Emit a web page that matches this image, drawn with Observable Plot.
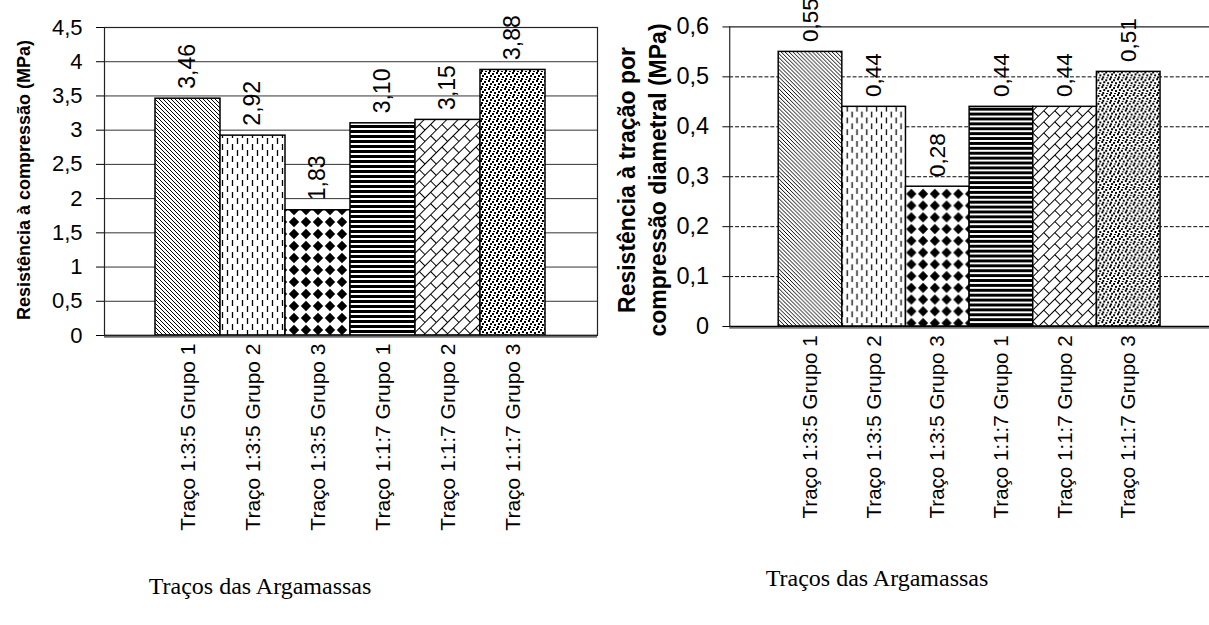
<!DOCTYPE html>
<html><head><meta charset="utf-8">
<script src="https://cdn.jsdelivr.net/npm/d3@7"></script>
<script src="https://cdn.jsdelivr.net/npm/@observablehq/plot@0.6"></script>
<style>
html,body{margin:0;padding:0;background:#fff;width:1209px;height:625px;overflow:hidden;}
#wrap{position:relative;width:1209px;height:625px;overflow:hidden;font-family:"Liberation Sans",Arial,sans-serif;color:#000;}
.chart{position:absolute;top:0;}
.ytitle{position:absolute;font-weight:bold;white-space:nowrap;transform:translate(-50%,-50%) rotate(-90deg);text-align:center;}
.xtitle{position:absolute;font-family:"Liberation Serif","Times New Roman",serif;font-size:24px;line-height:24px;white-space:nowrap;transform:translateX(-50%);}
</style></head><body>
<div id="wrap">
  <div id="left" class="chart" style="left:0"></div>
  <div id="right" class="chart" style="left:600px"></div>
  <div class="ytitle" style="left:24px;top:180px;font-size:18px;line-height:18px;">Resistência à compressão (MPa)</div>
  <div class="ytitle" style="left:643px;top:180px;font-size:23px;line-height:31px;">Resistência à tração por<br>compressão diametral (MPa)</div>
  <div class="xtitle" style="left:260px;top:574px">Traços das Argamassas</div>
  <div class="xtitle" style="left:877px;top:566px">Traços das Argamassas</div>
</div>
<script>
const categories = ["Traço 1:3:5 Grupo 1", "Traço 1:3:5 Grupo 2", "Traço 1:3:5 Grupo 3", "Traço 1:1:7 Grupo 1", "Traço 1:1:7 Grupo 2", "Traço 1:1:7 Grupo 3"];
const compressao = [3.46, 2.92, 1.83, 3.10, 3.15, 3.88];
const tracao = [0.55, 0.44, 0.28, 0.44, 0.44, 0.51];
const ticksCompressao = [0, 0.5, 1, 1.5, 2, 2.5, 3, 3.5, 4, 4.5];
const ticksTracao = [0, 0.1, 0.2, 0.3, 0.4, 0.5, 0.6];

const fmtTick = d => d === 0 ? "0" : String(d).replace(".", ",");
const fmtVal = d => d.toFixed(2).replace(".", ",");

function patternDefs(prefix) {
  return () => {
    const defs = d3.create("svg:defs");
    const add = (i, w, h, build, transform) => {
      const p = defs.append("pattern").attr("id", prefix + i)
        .attr("patternUnits", "userSpaceOnUse").attr("width", w).attr("height", h);
      if (transform) p.attr("patternTransform", transform);
      p.append("rect").attr("width", w).attr("height", h).attr("fill", "#fff");
      build(p);
    };
    add(0, 4, 4, p => p.append("path").attr("d", "M-1,-1L5,5M-1,3L1,5M3,-1L5,1").attr("stroke", "#000").attr("stroke-width", 1).attr("fill", "none"));
    add(1, 10, 12, p => p.append("path").attr("d", "M2.5,0V6M7.5,6V12").attr("stroke", "#000").attr("stroke-width", 1.3).attr("fill", "none"));
    add(2, 12, 12, p => p.append("path").attr("d", "M6,0.8L11.2,6L6,11.2L0.8,6Z").attr("fill", "#000"));
    add(3, 5, 5, p => p.append("rect").attr("width", 5).attr("height", 3).attr("fill", "#000"));
    add(4, 16, 16, p => p.append("path").attr("d", "M0,0.5H16M0,8.5H16M0.5,0.5V8.5M8.5,8.5V16.5").attr("stroke", "#000").attr("stroke-width", 1).attr("fill", "none"), "rotate(-45)");
    add(5, 8, 8, p => {
      for (const [x, y] of [[0, 0], [4, 1], [2, 3], [6, 4], [1, 6], [5, 7]]) p.append("rect").attr("x", x).attr("y", y).attr("width", 2).attr("height", 2).attr("fill", "#000");
    });
    return defs.node();
  };
}

const leftData = categories.map((c, i) => ({cat: c, value: compressao[i], pat: `url(#pc${i})`}));
const rightData = categories.map((c, i) => ({cat: c, value: tracao[i], pat: `url(#pt${i})`}));

const style = {fontFamily: "Liberation Sans, Arial, sans-serif", color: "#000", background: "transparent"};

const left = Plot.plot({
  width: 600, height: 540,
  marginLeft: 104, marginRight: 3, marginTop: 27, marginBottom: 205,
  style,
  x: {type: "band", domain: categories, padding: 0, insetLeft: 48, insetRight: 50, axis: null},
  y: {domain: [0, 4.5], axis: null},
  color: {type: "identity"},
  marks: [
    patternDefs("pc"),
    Plot.ruleY(ticksCompressao.slice(1), {stroke: "#333", strokeWidth: 1}),
    Plot.barY(leftData, {x: "cat", y: "value", fill: "pat", stroke: "#000", strokeWidth: 1.5}),
    Plot.ruleY([0], {stroke: "#999", strokeWidth: 2, dy: 1.5}),
    Plot.ruleY([0], {stroke: "#000", strokeWidth: 1.5}),
    Plot.frame({stroke: "#222", strokeWidth: 1.2}),
    Plot.axisY({ticks: ticksCompressao, tickFormat: fmtTick, tickSize: 8, tickPadding: 14, fontSize: 22, label: null}),
    Plot.text(leftData, {x: "cat", y: "value", text: d => fmtVal(d.value), rotate: -90, textAnchor: "start", lineAnchor: "middle", dy: -10, fontSize: 23}),
    Plot.text(categories, {x: d => d, frameAnchor: "bottom", text: d => d, rotate: -90, textAnchor: "end", lineAnchor: "middle", dy: 8, fontSize: 21})
  ]
});
document.getElementById("left").append(left);

const right = Plot.plot({
  width: 622, height: 540,
  marginLeft: 132, marginRight: 0, marginTop: 27, marginBottom: 207,
  style,
  x: {type: "band", domain: categories, padding: 0, insetLeft: 50, insetRight: 50, axis: null},
  y: {domain: [0, 0.6], axis: null},
  color: {type: "identity"},
  marks: [
    patternDefs("pt"),
    Plot.ruleY(ticksTracao.filter(t => t > 0 && t < 0.6), {stroke: "#000", strokeWidth: 1, strokeDasharray: "4,2"}),
    Plot.ruleY([0.6], {stroke: "#222", strokeWidth: 1.2}),
    Plot.barY(rightData, {x: "cat", y: "value", fill: "pat", stroke: "#000", strokeWidth: 1.5}),
    Plot.ruleY([0], {stroke: "#999", strokeWidth: 2, dy: 1.5}),
    Plot.ruleY([0], {stroke: "#000", strokeWidth: 1.5}),
    Plot.frame({anchor: "left", stroke: "#222", strokeWidth: 1.2}),
    Plot.axisY({ticks: ticksTracao, tickFormat: fmtTick, tickSize: 7, tickPadding: 14, fontSize: 24, label: null}),
    Plot.text(rightData, {x: "cat", y: "value", text: d => fmtVal(d.value), rotate: -90, textAnchor: "start", lineAnchor: "middle", dy: -10, fontSize: 23}),
    Plot.text(categories, {x: d => d, frameAnchor: "bottom", text: d => d, rotate: -90, textAnchor: "end", lineAnchor: "middle", dy: 9, fontSize: 21})
  ]
});
document.getElementById("right").append(right);
</script>
</body></html>
